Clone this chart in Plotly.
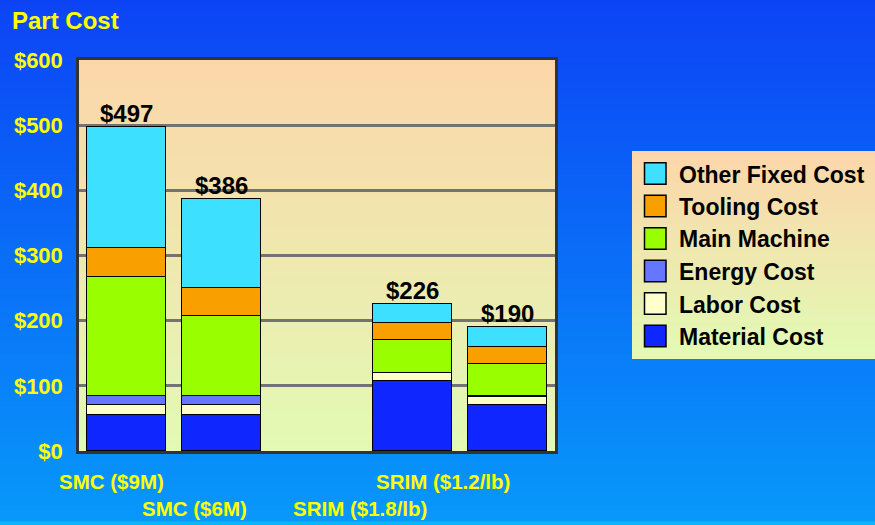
import plotly.graph_objects as go

# ---- data -------------------------------------------------------------
cases = ["SMC ($9M)", "SMC ($6M)", "SRIM ($1.8/lb)", "SRIM ($1.2/lb)"]
case_pos = [0, 1, 3, 4]          # slot 2 is left empty as a visual gap

series_names = ["Material Cost", "Labor Cost", "Energy Cost",
                "Main Machine", "Tooling Cost", "Other Fixed Cost"]
material = [56, 56, 107, 71]
labor = [14, 14, 12, 12]
energy = [14, 14, 1, 1]
main_machine = [183, 123, 50, 50]
tooling = [44, 43, 26, 26]
other_fixed = [186, 136, 30, 30]
series_values = [material, labor, energy, main_machine, tooling, other_fixed]
series_colors = ["#1026ff", "#ffffcc", "#6677ff", "#99ff00", "#f9a000", "#3ee0ff"]

totals = [sum(v) for v in zip(*series_values)]
y_ticks = [0, 100, 200, 300, 400, 500, 600]
y_tick_text = ["$0", "$100", "$200", "$300", "$400", "$500", "$600"]

# ---- geometry helpers (pixel -> paper coordinates) --------------------
W, H = 875, 525
L, R, T, B = 79, 555, 60, 451


def px_x(p):
    return (p - L) / (R - L)


def px_y(p):
    return (B - p) / (B - T)


def mix(c0, c1, t):
    return "rgb(%d,%d,%d)" % tuple(round(a + (b - a) * t) for a, b in zip(c0, c1))


def gradient(x0, x1, y0, y1, top, bottom, n):
    out = []
    step = (y1 - y0) / n
    for i in range(n):
        ya = y0 + i * step
        yb = ya + step + 2.5
        out.append(dict(type="rect", xref="paper", yref="paper", layer="below",
                        x0=px_x(x0), x1=px_x(x1), y0=px_y(ya), y1=px_y(min(yb, y1)),
                        fillcolor=mix(top, bottom, i / (n - 1)), line=dict(width=0)))
    return out


shapes = []
# page background
shapes += gradient(0, W, 0, 522, (12, 68, 245), (8, 152, 250), 90)
shapes.append(dict(type="rect", xref="paper", yref="paper", layer="below",
                   x0=px_x(0), x1=px_x(W), y0=px_y(521.5), y1=px_y(H),
                   fillcolor="rgb(10,182,248)", line=dict(width=0)))
# plot area fill
shapes += gradient(L, R, T, B, (252, 214, 170), (226, 250, 180), 70)
# legend panel
LG_X0, LG_X1, LG_Y0, LG_Y1 = 632, W, 151, 359
shapes += gradient(LG_X0, LG_X1, LG_Y0, LG_Y1, (252, 214, 170), (226, 250, 180), 40)

fig = go.Figure()
for name, vals, col in zip(series_names, series_values, series_colors):
    fig.add_trace(go.Bar(
        x=case_pos, y=vals, name=name, width=0.83,
        marker=dict(color=col, line=dict(color="#000000", width=1.5)),
        showlegend=False,
    ))

annotations = []
bold = dict(family="Liberation Sans, Arial, sans-serif", weight="bold")

# total labels above each stack
for x, tot in zip(case_pos, totals):
    annotations.append(dict(x=x, y=tot, xref="x", yref="y", text="$%d" % tot,
                            showarrow=False, yanchor="bottom", yshift=-2,
                            font=dict(size=24, color="#000000", **bold)))

# staggered category labels
label_shift = [-15, -27, -52, -64]
label_row = [481.5, 508, 508, 481.5]
for x, txt, dx, row in zip(case_pos, cases, label_shift, label_row):
    annotations.append(dict(x=x, y=px_y(row), xref="x", yref="paper", text=txt,
                            showarrow=False, xanchor="center", yanchor="middle",
                            xshift=dx, font=dict(size=20.5, color="#ffff00", **bold)))

# legend: swatches and names, top entry is the top of the stack
row_y = [173.5, 206, 238.5, 271, 303.5, 336]
for ry, name, col in zip(row_y, series_names[::-1], series_colors[::-1]):
    shapes.append(dict(type="rect", xref="paper", yref="paper",
                       x0=px_x(644.5), x1=px_x(666), y0=px_y(ry + 10.8), y1=px_y(ry - 10.8),
                       fillcolor=col, line=dict(color="#000000", width=1.5)))
    annotations.append(dict(x=px_x(677), y=px_y(ry + 1), xref="paper", yref="paper",
                            text=name, showarrow=False, xanchor="left", yanchor="middle",
                            font=dict(size=23, color="#000000", **bold)))

fig.update_layout(
    width=W, height=H,
    margin=dict(l=L, r=W - R, t=T, b=H - B),
    paper_bgcolor="rgba(0,0,0,0)",
    plot_bgcolor="rgba(0,0,0,0)",
    barmode="stack",
    bargap=0,
    title=dict(text="Part Cost", xref="container", yref="container",
               x=12 / W, xanchor="left", y=1 - 21 / H, yanchor="middle",
               font=dict(size=24, color="#ffff00", **bold)),
    xaxis=dict(range=[-0.5, 4.5], showticklabels=False, ticks="",
               showgrid=False, zeroline=False,
               showline=True, mirror=True, linecolor="#333333", linewidth=2.5),
    yaxis=dict(range=[0, 600], tickmode="array", tickvals=y_ticks, ticktext=y_tick_text,
               tickfont=dict(size=22, color="#ffff00", **bold),
               ticks="", ticklabelstandoff=9,
               showgrid=True, gridcolor="#737373", gridwidth=2.5, zeroline=False,
               showline=True, mirror=True, linecolor="#333333", linewidth=2.5),
    shapes=shapes,
    annotations=annotations,
    showlegend=False,
)

fig.write_html("out.html")
